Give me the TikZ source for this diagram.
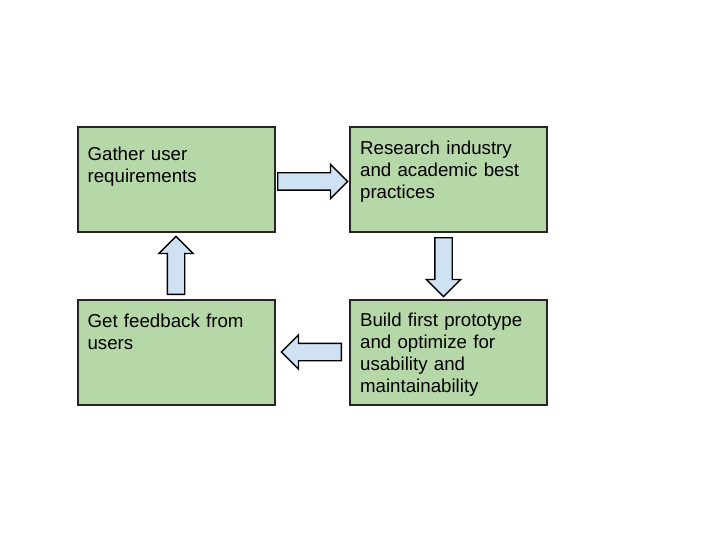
\documentclass[tikz,border=0pt]{standalone}
\usepackage{fontspec}
\setmainfont{Liberation Sans}
\usepackage{xcolor}
\definecolor{colorStep}{HTML}{B6D7A8}
\definecolor{colorArrow}{HTML}{CFE2F3}
\usepackage{tikz}
\usetikzlibrary{shapes.arrows, positioning}
\tikzset{
  stepbox/.style={draw=black!85, fill=colorStep, line width=1.2pt, minimum width=197pt, minimum height=105pt, inner sep=0pt},
  steptext/.style={inner sep=0pt, text width=185pt, align=left, font=\fontsize{18.7}{22}\selectfont, execute at begin node=\strut},
  blockarrow/.style={single arrow, draw=black, fill=colorArrow, line width=1.3pt, inner sep=8pt, single arrow head extend=8.5pt, anchor=tail}
}

\begin{document}
\begin{tikzpicture}[x=1pt, y=-1pt]
\useasboundingbox (0,0) rectangle (720,540);
\node[stepbox] (gather) at (176.5,179.5) {};
\node[stepbox] (research) at (448.5,179.5) {};
\node[stepbox] (build) at (448.5,352.5) {};
\node[stepbox] (feedback) at (176.5,352.5) {};
\node[steptext, below right=18.2pt and 10pt of gather.north west] (tgather) {Gather user\\requirements};
\node[steptext, below right=13pt and 10.5pt of research.north west] (tresearch) {Research industry\\and academic best\\practices};
\node[steptext, below right=11.6pt and 10.5pt of build.north west] (tbuild) {Build first prototype\\and optimize for\\usability and\\maintainability};
\node[steptext, below right=12.9pt and 10pt of feedback.north west] (tfeedback) {Get feedback from\\users};
% arrows between the steps
\node[blockarrow, minimum height=70pt, shape border rotate=0] (a1) at (277,181.5) {};
\node[blockarrow, minimum height=59pt, shape border rotate=270] (a2) at (443.5,237) {};
\node[blockarrow, minimum height=60pt, shape border rotate=180] (a3) at (342,352) {};
\node[blockarrow, minimum height=58pt, shape border rotate=90] (a4) at (176,295) {};
\end{tikzpicture}
\end{document}
